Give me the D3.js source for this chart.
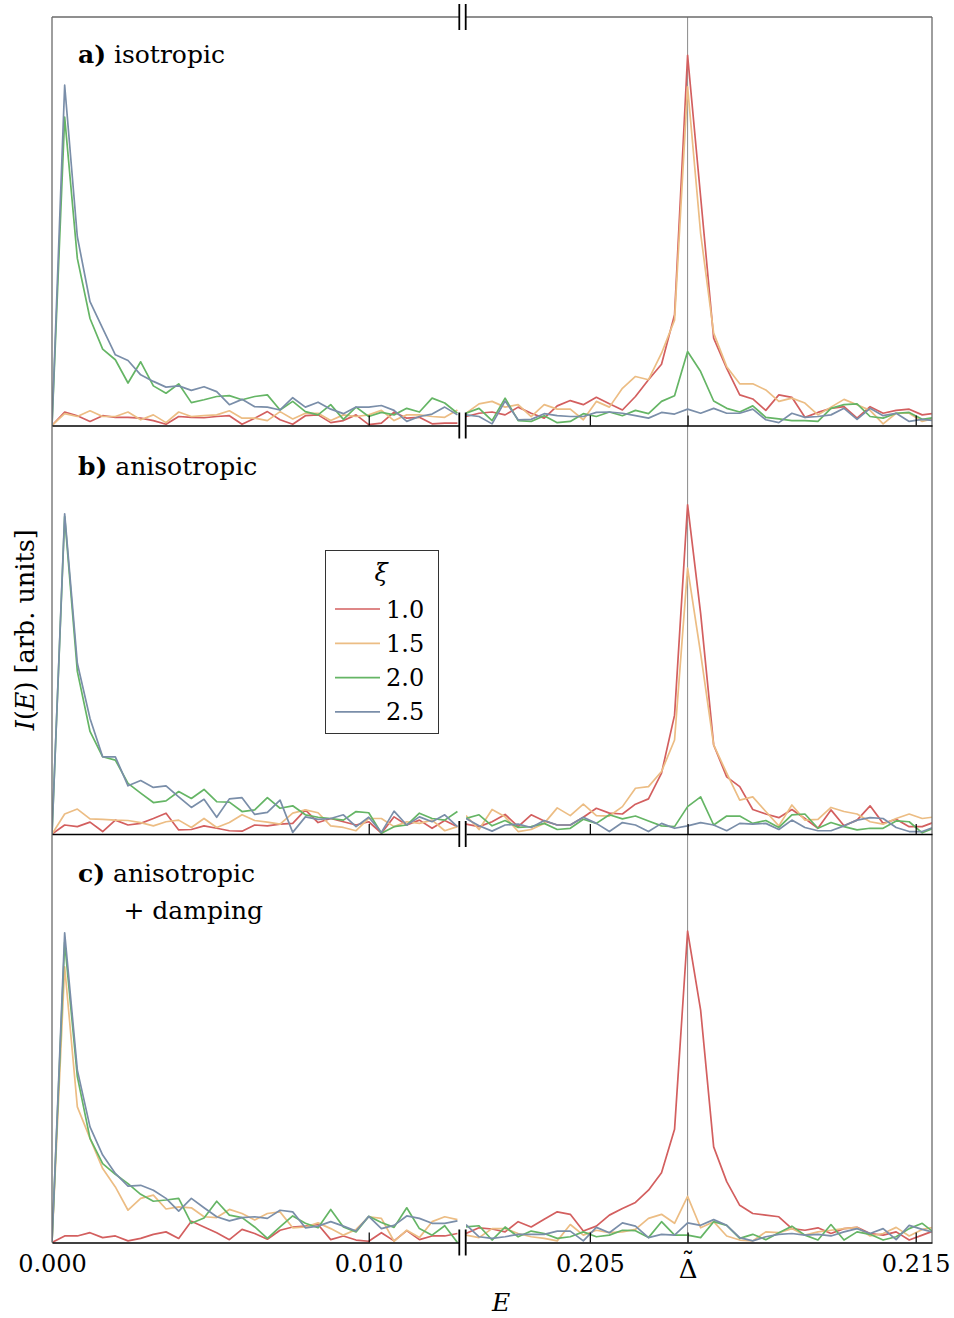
<!DOCTYPE html>
<html><head><meta charset="utf-8">
<script src="https://cdn.jsdelivr.net/npm/d3@7"></script>
<style>body{margin:0;background:#fff} svg{display:block} text{font-family:"DejaVu Serif",serif}</style>
</head><body><svg id="chart" width="954" height="1318"></svg>
<script>
// ---- data ----
const eLow = [0,0.0004,0.0008,0.0012,0.0016,0.0020,0.0024,0.0028,0.0032,0.0036,0.0040,0.0044,0.0048,0.0052,0.0056,0.0060,0.0064,0.0068,0.0072,0.0076,0.0080,0.0084,0.0088,0.0092,0.0096,0.0100,0.0104,0.0108,0.0112,0.0116,0.0120,0.0124,0.0128];
const eHigh = [0.2012,0.2016,0.2020,0.2024,0.2028,0.2032,0.2036,0.2040,0.2044,0.2048,0.2052,0.2056,0.2060,0.2064,0.2068,0.2072,0.2076,0.2080,0.2084,0.2088,0.2092,0.2096,0.2100,0.2104,0.2108,0.2112,0.2116,0.2120,0.2124,0.2128,0.2132,0.2136,0.2140,0.2144,0.2148,0.2152,0.2156];
const xiValues = ["1.0","1.5","2.0","2.5"];
const lowTicks = [0, 0.010];
const lowTickLabels = ["0.000","0.010"];
const highTicks = [0.205, 0.208, 0.215];
const highTickLabels = ["0.205","\u0394","0.215"];   // Δ gets a tilde accent
const deltaTilde = 0.208;

// a) isotropic
const a10L = [0,3.3,2.4,1.0,2.4,2.0,2.0,1.8,1.2,0.3,2.2,2.0,1.9,2.2,2.4,0.3,1.8,3.4,1.4,0.3,2.4,2.6,0.7,1.2,2.6,0.2,0.6,3.3,1.8,2.0,0.4,0.6,0.6];
const a15L = [0,2.9,2.2,3.6,2.2,2.2,3.3,1.4,2.6,0.7,3.3,2.2,2.4,2.6,3.6,1.8,1.8,1.2,3.4,1.6,3.0,3.0,1.2,2.6,2.2,2.6,3.7,1.2,2.6,2.6,2.2,2.0,3.8];
const a20L = [0,75.5,40.9,26.2,18.7,16.1,10.4,15.6,9.7,7.9,10.2,5.6,6.3,7.1,7.3,6.3,7.1,7.5,3.8,5.9,3.4,2.6,5.1,1.5,4.5,2.2,3.2,2.6,4.2,3.3,6.7,5.5,3.0];
const a25L = [0,83.3,46.2,30.3,23.8,17.3,15.9,12.4,10.8,9.4,9.7,8.6,9.5,8.3,5.1,6.4,4.6,4.5,3.8,6.8,4.5,5.7,4.0,2.9,4.5,4.5,4.9,3.7,1.0,2.2,2.8,4.5,2.6];
const a10H = [2.2,3.0,3.3,2.6,4.5,3.0,1.8,4.8,6.1,5.1,6.9,5.3,3.8,7.1,11.2,15.0,27.1,90.6,56.0,21.4,14.0,7.5,6.5,3.7,7.5,6.9,2.0,3.2,4.2,4.6,1.8,4.6,3.0,3.7,4.0,2.6,3.0];
const a15H = [3.0,5.3,5.9,4.5,5.1,2.2,5.1,4.0,4.0,1.4,5.9,4.5,9.1,12.0,11.2,17.7,25.8,82.9,47.0,22.6,14.4,10.2,10.2,8.7,5.9,6.7,5.5,2.6,4.5,6.4,5.1,3.7,0.4,3.0,3.0,1.0,1.8];
const a20H = [3.0,4.2,1.2,6.7,1.2,1.0,2.4,0.7,1.0,2.9,2.2,3.3,2.4,3.7,2.9,5.9,7.3,18.1,13.2,6.0,4.2,3.3,4.8,2.0,1.6,1.2,1.2,1.0,4.2,5.1,5.3,2.2,1.8,3.0,3.2,1.5,2.0];
const a25H = [2.6,2.2,0.4,6.0,1.4,1.5,2.9,2.4,2.2,2.2,3.2,3.3,3.0,2.4,1.8,3.2,2.8,4.0,3.0,4.2,3.0,3.0,4.0,1.4,0.7,3.0,2.0,2.2,2.6,4.2,1.5,4.2,2.4,3.0,1.0,1.5,1.2];

// b) anisotropic
const b10L = [0,2.2,1.8,2.9,0.6,3.4,2.2,2.6,3.8,5.1,1.0,1.1,2.0,1.4,0.8,0.7,2.2,2.0,2.4,2.6,5.9,2.8,3.8,3.0,2.2,3.0,0.2,4.2,2.2,3.4,1.4,3.3,1.8];
const b15L = [0,4.9,6.1,3.7,3.6,3.4,3.3,2.8,2.0,3.0,3.4,1.6,3.8,1.6,2.8,4.7,3.3,2.9,2.4,5.1,5.9,5.2,2.0,1.6,0.8,3.8,3.8,1.8,3.0,2.6,3.4,0.8,1.8];
const b20L = [0,77.7,39.8,25.1,18.9,18.1,12.4,10.0,7.7,8.1,10.4,8.7,10.9,7.9,7.8,5.5,5.9,8.9,6.3,6.9,4.7,4.1,3.8,3.4,5.5,5.2,0.2,1.8,2.2,5.1,3.8,3.4,5.5];
const b25L = [0,78.4,41.8,28.3,18.9,18.9,11.8,13.1,11.4,11.8,9.1,6.5,8.5,4.1,8.6,8.9,4.8,5.3,8.3,0.4,4.2,3.6,3.8,4.7,1.8,4.1,0.4,5.6,2.2,4.2,3.0,4.7,1.8];
const b10H = [2.4,1.8,3.0,4.8,1.8,4.7,3.2,2.2,2.2,4.1,6.3,5.1,4.9,7.3,8.6,14.9,29.1,80.6,54.0,21.8,14.0,11.6,6.0,4.9,4.0,6.0,3.8,1.4,5.9,2.0,3.4,6.9,2.6,3.6,1.8,1.8,3.0];
const b15H = [4.5,1.1,6.0,4.2,0.6,1.1,2.6,6.4,4.5,7.3,4.5,4.4,6.7,11.2,11.6,15.3,23.0,65.1,44.2,21.8,14.9,8.3,9.1,5.5,2.0,7.1,3.4,3.6,6.5,5.5,4.9,3.0,2.4,3.8,4.9,3.8,4.2];
const b20H = [3.8,4.7,2.0,3.3,1.6,1.8,2.6,1.1,1.4,3.6,2.6,4.7,3.7,4.4,3.2,2.0,1.8,6.7,9.1,2.2,4.4,4.4,2.6,3.3,1.6,4.7,4.9,1.4,2.8,1.8,1.0,1.4,1.4,3.2,3.0,0.3,1.6];
const b25H = [3.8,2.0,0.7,2.2,2.4,1.6,3.3,2.2,2.2,4.1,2.6,0.6,2.8,2.2,0.6,2.6,1.4,2.0,2.8,2.2,0.8,2.6,2.4,2.6,1.1,3.4,1.6,0.8,0.8,2.0,3.4,4.0,3.8,1.6,0.6,0.6,1.8];

// c) anisotropic + damping
const c10L = [0,1.6,1.6,2.4,1.2,1.6,0.4,1.0,2.0,2.6,1.0,5.2,3.8,2.4,0.7,3.2,2.2,0.8,3.0,3.8,4.0,4.4,0.7,1.6,0.6,0.3,2.4,0.4,2.9,0.7,1.6,1.6,2.2];
const c15L = [0,67.5,33.2,25.5,18.1,13.6,7.9,10.8,11.6,8.2,8.7,8.5,6.3,6.1,8.1,7.1,5.5,7.1,7.5,3.6,3.8,4.8,3.4,1.8,3.2,6.3,5.9,0.3,3.0,1.2,5.1,6.3,5.6];
const c20L = [0,73.5,40.6,25.5,19.3,16.7,14.4,11.8,10.1,10.4,10.8,4.7,6.0,10.1,6.7,6.1,3.8,1.0,3.8,6.5,4.7,3.6,8.1,3.8,2.6,6.4,4.9,3.7,8.5,3.4,1.8,4.1,0];
const c25L = [0,75.8,42.2,28.3,21.4,16.9,13.8,14.0,12.8,10.8,7.7,10.8,8.5,6.3,5.3,6.1,6.3,5.9,7.9,7.5,3.6,4.0,5.1,4.0,2.8,6.4,3.4,4.2,6.5,5.9,4.7,4.7,5.3];
const c10H = [2.2,3.6,3.3,2.6,5.1,3.8,5.7,7.5,6.9,2.8,4.0,6.7,8.3,9.8,12.8,17.1,27.7,76.2,56.9,23.4,14.9,9.1,7.1,6.7,6.3,3.4,3.0,3.6,2.2,3.4,3.7,2.2,1.8,2.6,0.6,1.8,3.0];
const c15H = [1.8,1.2,3.4,3.4,2.2,1.4,1.0,0.4,4.4,1.8,3.0,2.4,2.6,3.2,5.9,6.9,4.7,11.3,3.6,5.1,1.6,0.6,0.4,2.6,2.4,3.4,1.8,2.6,3.0,3.4,3.7,1.6,2.2,3.7,1.6,3.2,3.8];
const c20H = [3.8,4.1,0.6,3.8,1.4,2.8,2.2,1.0,1.4,2.6,1.4,1.8,3.0,2.9,1.2,5.1,1.8,1.8,1.2,5.1,4.2,1.0,2.0,0.7,2.4,4.0,1.8,0.6,4.4,0.6,2.6,2.0,0.6,1.4,3.4,4.7,2.2];
const c25H = [4.4,1.4,1.0,1.4,2.0,2.0,2.0,2.8,2.8,0.4,3.7,2.4,4.8,4.0,1.2,2.0,1.8,4.8,4.2,5.6,4.2,1.2,0.4,1.4,2.0,2.2,1.8,2.0,1.6,2.6,3.4,2.2,3.4,0.7,4.2,3.2,2.4];

const panelLabels = [["a)","isotropic"],["b)","anisotropic"],["c)","anisotropic"]];

// ---- layout ----
const colors = ["#d35f5f","#ecbd84","#65b565","#7a8ea9"];
const svg = d3.select("#chart");
const xL = d3.scaleLinear().domain([0, 0.01285]).range([52, 459]);
const xR = d3.scaleLinear().domain([0.2012, 0.2155]).range([466, 932]);
const bounds = [[17, 425.5], [425.5, 834], [834, 1242.5]];
const panels = [
  {low:[a10L,a15L,a20L,a25L], high:[a10H,a15H,a20H,a25H]},
  {low:[b10L,b15L,b20L,b25L], high:[b10H,b15H,b20H,b25H]},
  {low:[c10L,c15L,c20L,c25L], high:[c10H,c15H,c20H,c25H]}
];
const yTop = bounds[0][0], yBottom = bounds[2][1];
const frame = "#6a6a6a";

// Delta line
svg.append("line").attr("x1", xR(deltaTilde)).attr("x2", xR(deltaTilde))
  .attr("y1", yTop).attr("y2", yBottom).attr("stroke", "#8a8a8a").attr("stroke-width", 1);

const defs = svg.append("defs");
panels.forEach((p, pi) => {
  const [t, b] = bounds[pi];
  const y = d3.scaleLinear().domain([0, 100]).range([b, t]);
  [["L", xL, eLow, p.low], ["R", xR, eHigh, p.high]].forEach(([side, x, es, series]) => {
    const id = `clip${pi}${side}`;
    const r = x.range();
    defs.append("clipPath").attr("id", id).append("rect")
      .attr("x", r[0]).attr("y", t - 2).attr("width", r[1] - r[0]).attr("height", b - t + 4);
    const g = svg.append("g").attr("clip-path", `url(#${id})`);
    series.forEach((vals, si) => {
      const line = d3.line().x((d, i) => x(es[i])).y(d => y(d));
      g.append("path").datum(vals).attr("d", line).attr("fill", "none")
        .attr("stroke", colors[si]).attr("stroke-width", 1.7).attr("stroke-linejoin", "round");
    });
  });
});

// frame: left, top, right
svg.append("line").attr("x1", 52).attr("x2", 52).attr("y1", yTop).attr("y2", yBottom).attr("stroke", frame).attr("stroke-width", 1.3);
svg.append("line").attr("x1", 932).attr("x2", 932).attr("y1", yTop).attr("y2", yBottom).attr("stroke", frame).attr("stroke-width", 1.3);
svg.append("line").attr("x1", xL.range()[0]).attr("x2", xL.range()[1]).attr("y1", yTop).attr("y2", yTop).attr("stroke", frame).attr("stroke-width", 1.3);
svg.append("line").attr("x1", xR.range()[0]).attr("x2", xR.range()[1]).attr("y1", yTop).attr("y2", yTop).attr("stroke", frame).attr("stroke-width", 1.3);

// axes
bounds.forEach(([t, b], pi) => {
  const last = pi === bounds.length - 1;
  const axL = d3.axisBottom(xL).tickValues(lowTicks).tickSizeInner(-10).tickSizeOuter(0).tickPadding(12)
    .tickFormat((d, i) => last ? lowTickLabels[i] : "");
  const axR = d3.axisBottom(xR).tickValues(highTicks).tickSizeInner(-10).tickSizeOuter(0).tickPadding(12)
    .tickFormat((d, i) => last ? highTickLabels[i] : "");
  [axL, axR].forEach(ax => {
    const g = svg.append("g").attr("transform", `translate(0,${b})`).call(ax);
    g.select(".domain").attr("stroke", "#000").attr("stroke-width", 1.3);
    g.selectAll(".tick line").attr("stroke", "#000").attr("stroke-width", 1.2)
      .filter(d => d === 0).remove();
    g.selectAll(".tick text").attr("font-size", 24).attr("fill", "#000")
      .attr("font-family", "DejaVu Serif");
    if (last) {
      // Δ with a tilde accent, kept in one text element
      const txt = g.selectAll(".tick").filter(d => d === deltaTilde).select("text");
      if (!txt.empty()) {
        const label = txt.text();
        txt.text(null).attr("dy", null).attr("y", null);
        txt.append("tspan").attr("x", 0).attr("y", 35.5).attr("font-size", 26).text(label);
        txt.append("tspan").attr("x", 0).attr("y", 28).attr("font-size", 26).text("\u02DC");
      }
    }
  });
});

// break marks
[yTop, ...bounds.map(d => d[1])].forEach(yy => {
  [xL.range()[1] + 0.3, xR.range()[0] - 0.3].forEach(xx => {
    svg.append("line").attr("x1", xx).attr("x2", xx).attr("y1", yy - 13).attr("y2", yy + 13)
      .attr("stroke", "#000").attr("stroke-width", 1.8);
  });
});

// panel labels
const labelBase = [63, 475, 882];
panelLabels.forEach(([l, txt], i) => {
  const t = svg.append("text").attr("x", 78).attr("y", labelBase[i]).attr("font-size", 25).attr("fill", "#000");
  t.append("tspan").attr("font-weight", "bold").text(l);
  t.append("tspan").text(" " + txt);
});
svg.append("text").attr("x", 263).attr("y", 919).attr("text-anchor", "end").attr("font-size", 25).text("+ damping");

// axis titles
const yl = svg.append("text").attr("transform", `translate(34,${(yTop + yBottom) / 2}) rotate(-90)`)
  .attr("text-anchor", "middle").attr("font-size", 25.5);
yl.append("tspan").attr("font-style", "italic").text("I");
yl.append("tspan").text("(");
yl.append("tspan").attr("font-style", "italic").text("E");
yl.append("tspan").text(") [arb. units]");
svg.append("text").attr("x", 501).attr("y", 1311).attr("text-anchor", "middle")
  .attr("font-size", 25).attr("font-style", "italic").text("E");

// legend
const lg = svg.append("g");
lg.append("rect").attr("x", 325.5).attr("y", 550.5).attr("width", 113).attr("height", 183)
  .attr("fill", "#fff").attr("stroke", "#333").attr("stroke-width", 1);
lg.append("text").attr("x", 381).attr("y", 581).attr("text-anchor", "middle")
  .attr("font-size", 24).attr("font-style", "italic").text("\u03BE");
xiValues.forEach((v, i) => {
  const yy = 609 + i * 34.3;
  lg.append("line").attr("x1", 335).attr("x2", 380).attr("y1", yy).attr("y2", yy)
    .attr("stroke", colors[i]).attr("stroke-width", 1.7);
  lg.append("text").attr("x", 386).attr("y", yy + 8.5).attr("font-size", 24).text(v);
});
</script></body></html>
